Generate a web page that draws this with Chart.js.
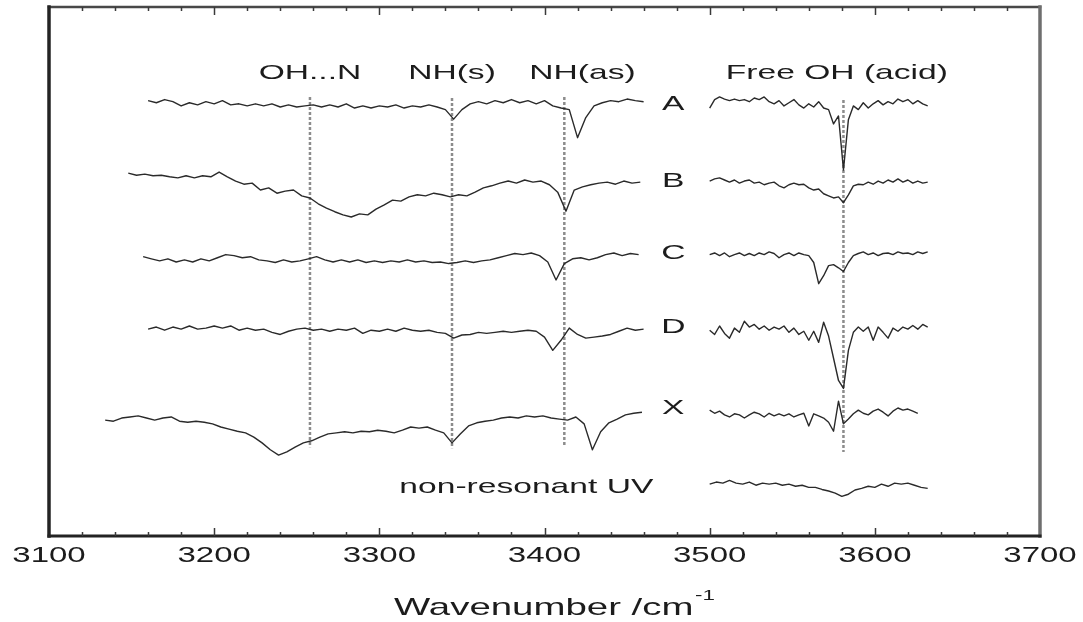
<!DOCTYPE html>
<html>
<head>
<meta charset="utf-8">
<script src="https://cdn.jsdelivr.net/npm/chart.js@4.4.1/dist/chart.umd.min.js"></script>
<style>
  html, body { margin: 0; padding: 0; background: #fff; }
  canvas { display: block; }
</style>
</head>
<body>
<canvas id="spectra" width="1083" height="622"></canvas>
<script>
// IR-UV ion-dip spectra, intensity in arbitrary units (each trace shifted by its offset)
const traceNames   = ['A', 'B', 'C', 'D', 'X', 'non-resonant UV'];
const traceOffsets = [81.7, 67.3, 52.6, 38.9, 22.3, 9.6];
const labelLift    = [0, -0.2, 0.9, 0.6, 1.9, -0.4];

// low-frequency scan (NH / bonded OH region): start wavenumber, step
const lowStart = [3160, 3148, 3157, 3160, 3134];
const lowStep  = 5;
// high-frequency scan (free OH region)
const highStart = [3500, 3500, 3500, 3500, 3500, 3500];
const highStep  = [3, 3, 3, 3, 3, 4];

const aLow = [0.6,0.2,0.8,0.4,-0.4,0.2,-0.2,0.4,0,0.6, -0.2,0,-0.4,0,-0.4,0,-0.6,-0.2,-0.6,-0.4,
  -0.2,-0.6,-0.2,-0.6,0,-0.8,-0.4,-0.8,-0.4,-0.6, -0.2,-0.8,-0.4,-0.6,-0.2,-0.6,-1.1,-2.9,-1.1,0,
  0.4,0,0.6,0.2,0.8,0.2,0.6,0,0.6,-0.4, -0.8,-1.1,-6.4,-2.6,-0.4,0.2,0.6,0.4,0.9,0.6,0.4];
const aHigh = [-0.8,0.8,1.3,0.9,0.6,0.9,0.6,0.8,0.4,1.1, 0.8,1.3,0.4,0,0.6,-0.4,0.2,0.8,-0.2,-0.8,
  0,-0.6,0.4,-0.8,-1.1,-3.8,-2.3,-12.5,-3.0,-0.4, -1.1,0.2,-0.8,0,0.6,-0.2,0.4,0,0.9,0.4,
  0.8,0,0.6,0,-0.4];

const bLow = [1.3,0.9,1.1,0.8,0.9,0.6,0.4,0.8,0.4,0.8, 0.6,1.5,0.6,-0.2,-0.8,-0.6,-1.9,-1.5,-2.5,-2.1,
  -1.9,-3.0,-3.4,-4.5,-5.3,-6.0,-6.6,-7.0,-6.4,-6.6, -5.5,-4.7,-3.8,-4.0,-3.2,-2.8,-3.0,-2.5,-2.8,-3.2,
  -2.8,-3.0,-2.3,-1.5,-1.1,-0.6,-0.2,-0.6,0,-0.4, -0.2,-0.9,-2.3,-5.9,-1.9,-1.3,-0.9,-0.6,-0.4,-0.8,
  -0.2,-0.6,-0.4];
const bHigh = [-0.2,0.2,0.4,0,-0.4,0,-0.6,-0.2,0,-0.6, -0.4,-0.9,-0.6,-0.4,-1.1,-1.5,-0.9,-0.6,-0.9,-0.8,
  -1.5,-1.9,-1.7,-2.6,-3.0,-3.4,-3.2,-4.3,-2.8,-1.1, -0.8,-0.9,-0.4,-0.8,-0.2,-0.6,0,-0.4,0.2,-0.4,
  0,-0.6,-0.2,-0.6,-0.4];

const cLow = [0.2,-0.2,-0.6,-0.2,-0.8,-0.4,-0.8,-0.2,-0.6,0, 0.6,0.4,0,0.2,-0.4,-0.6,-0.9,-0.4,-0.8,-0.6,
  -0.2,0.2,-0.4,-0.8,-0.4,-0.8,-0.4,-0.9,-0.6,-0.9, -0.6,-0.8,-0.4,-0.8,-0.6,-0.9,-0.8,-1.1,-0.9,-0.6,
  -0.9,-0.6,-0.4,0,0.4,0.8,0.6,0.9,0.4,-0.8, -4.2,-1.1,-0.2,0,-0.4,0,0.6,0.9,0.4,0.8, 0.6];
const cHigh = [0.6,0.9,0.4,0.9,0.2,0.6,0.9,0.4,0.8,0.4, 0.9,0.6,1.1,0.8,0,0.6,0.9,0.4,0.9,0.6,
  0.4,-0.9,-4.9,-3.4,-1.5,-1.3,-1.9,-2.6,-0.9,0.4, 0.8,1.1,0.6,0.9,0.4,0.8,0.9,0.6,1.1,0.8,
  0.9,0.6,1.1,0.8,1.1];

const dLow = [0.2,0.6,0,0.6,0.2,0.8,0.2,0.4,0.8,0.4, 0.8,0,0.4,0,0.2,-0.4,-0.8,-0.2,0.2,0.4,
  0,0.2,-0.2,0.2,0,0.4,-0.6,0,-0.2,0.2, -0.2,0.4,0,-0.2,0,-0.4,-0.6,-1.5,-0.9,-0.8,
  -0.4,-0.6,-0.4,-0.2,-0.4,-0.2,0,-0.2,-1.3,-3.8, -1.9,0.4,-0.8,-1.5,-1.3,-1.1,-0.8,-0.2,0.4,0, 0.2];
const dHigh = [0,-0.8,0.8,-0.6,-1.5,0.4,-0.4,1.7,0.6,1.1, 0.2,0.8,0,0.6,0.2,0.8,-0.4,0.4,-0.8,-0.2,
  -1.9,-0.2,-2.3,1.5,-1.1,-5.3,-9.5,-11.0,-3.8,-0.4, 0.6,-0.2,0.6,-1.9,0.6,-0.4,-1.5,0.4,-0.2,0.6,
  0.2,0.9,0.2,1.1,0.6];

const xLow = [-0.4,-0.6,0,0.2,0.4,0,-0.4,0,0.2,-0.6, -0.8,-0.6,-0.8,-1.1,-1.7,-2.1,-2.5,-2.8,-3.6,-4.7,
  -6.0,-7.0,-6.4,-5.5,-4.7,-4.3,-3.6,-3.0,-2.8,-2.6, -2.8,-2.5,-2.6,-2.3,-2.5,-2.8,-2.3,-1.7,-1.9,-1.7,
  -2.3,-2.8,-4.7,-3.0,-1.5,-0.9,-0.6,-0.4,0,0.2, 0,0.4,0.2,0.4,0,-0.2,-0.4,0.2,-1.1,-6.0,
  -2.6,-0.9,-0.2,0.6,0.9,1.1];
const xHigh = [1.5,0.9,1.3,0.6,0.2,0.8,0.6,0,0.6,1.1, 0.8,0.2,0.9,0.4,0.8,0.4,0.8,0.2,0.6,0.9,
  -1.5,0.8,0.4,0,-0.8,-2.5,3.2,-1.1,-0.2,0.8, 1.5,0.9,0.6,1.3,1.7,1.1,0.4,1.3,1.9,1.5,
  1.7,1.3,0.9];

const uvHigh = [0.2,0.6,0.4,0.9,0.4,0.2,0.6,0,0.4,0.2, 0.4,0,0.2,-0.2,0,-0.4,-0.4,-0.8,-1.1,-1.5,
  -2.1,-1.7,-0.9,-0.6,-0.2,-0.4,0.2,-0.2,0.4,0.2, 0.4,0,-0.4,-0.6];

const lowScans  = [aLow, bLow, cLow, dLow, xLow];
const highScans = [aHigh, bHigh, cHigh, dHigh, xHigh, uvHigh];

// assigned band positions (dotted guides) and their captions
const bandNames     = ['OH...N', 'NH(s)', 'NH(as)', 'Free OH (acid)'];
const bandPositions = [3258, 3344, 3412, 3581];
const bandTop       = [83.0, 82.8, 83.0, 82.4];
const bandBottom    = [16.8, 16.6, 17.2, 15.9];
const bandLabelX    = [3258, 3344, 3423, 3577];
const bandLabelY    = 87.5;

const traceLabelX = 3478;
const uvLabelX    = 3389;

const xMajorTicks = [3100, 3200, 3300, 3400, 3500, 3600, 3700];
const xTickLabels = ['3100', '3200', '3300', '3400', '3500', '3600', '3700'];
const xMinorStep  = 20;
const axisTitle   = 'Wavenumber /cm';
const axisTitleSup = '-1';

const traceColor = '#2a2a2a';
const FONT = '"Liberation Sans", Arial, Helvetica, sans-serif';

function scanPoints(values, start, step, offset) {
  return values.map((v, i) => ({ x: start + i * step, y: offset + v }));
}

const datasets = [];
lowScans.forEach((vals, k) => {
  datasets.push({
    data: scanPoints(vals, lowStart[k], lowStep, traceOffsets[k]),
    borderColor: traceColor, borderWidth: 1.4, order: 0
  });
});
highScans.forEach((vals, k) => {
  datasets.push({
    data: scanPoints(vals, highStart[k], highStep[k], traceOffsets[k]),
    borderColor: traceColor, borderWidth: 1.4, order: 0
  });
});
bandPositions.forEach((pos, k) => {
  datasets.push({
    data: [{ x: pos, y: bandTop[k] }, { x: pos, y: bandBottom[k] }],
    borderColor: '#8c8c8c', borderWidth: 2.5, borderDash: [3, 2], order: 1
  });
});

function wideText(ctx, text, x, y, size, sx, align) {
  ctx.save();
  ctx.translate(x, y);
  ctx.scale(sx, 1);
  ctx.font = size + 'px ' + FONT;
  ctx.textAlign = align || 'center';
  ctx.textBaseline = 'middle';
  ctx.fillText(text, 0, 0);
  ctx.restore();
}

const framePlugin = {
  id: 'frameAndText',
  afterDraw(chart) {
    const { ctx, chartArea: { left, right, top, bottom }, scales: { x, y } } = chart;
    ctx.save();
    ctx.lineCap = 'square';
    // box
    ctx.strokeStyle = '#484848'; ctx.lineWidth = 2.5;
    ctx.beginPath(); ctx.moveTo(left, top); ctx.lineTo(right, top); ctx.stroke();
    ctx.strokeStyle = '#6e6e6e'; ctx.lineWidth = 3.5;
    ctx.beginPath(); ctx.moveTo(right, top); ctx.lineTo(right, bottom); ctx.stroke();
    ctx.strokeStyle = '#232323'; ctx.lineWidth = 3;
    ctx.beginPath(); ctx.moveTo(left, bottom); ctx.lineTo(right, bottom); ctx.stroke();
    ctx.lineWidth = 3.5;
    ctx.beginPath(); ctx.moveTo(left, top); ctx.lineTo(left, bottom); ctx.stroke();

    // inward ticks on top and bottom axes
    ctx.strokeStyle = '#3a3a3a'; ctx.lineWidth = 1.5; ctx.lineCap = 'butt';
    for (let v = x.min + xMinorStep; v < x.max; v += xMinorStep) {
      const px = Math.round(x.getPixelForValue(v)) + 0.5;
      const len = (v % 100 === 0) ? 8 : 4;
      ctx.beginPath(); ctx.moveTo(px, top); ctx.lineTo(px, top + len); ctx.stroke();
      ctx.beginPath(); ctx.moveTo(px, bottom); ctx.lineTo(px, bottom - len); ctx.stroke();
    }

    ctx.fillStyle = '#1c1c1c';
    // tick labels
    xMajorTicks.forEach((v, i) => {
      wideText(ctx, xTickLabels[i], x.getPixelForValue(v), bottom + 20, 22, 1.5, 'center');
    });
    // axis title with superscript
    ctx.save();
    ctx.font = '24px ' + FONT;
    const wMain = ctx.measureText(axisTitle).width;
    ctx.font = '14px ' + FONT;
    const wSup = ctx.measureText(axisTitleSup).width;
    ctx.restore();
    const sx = 1.6;
    const total = (wMain + wSup + 1) * sx;
    const cx = (left + right) / 2 + 10;
    const startX = cx - total / 2;
    wideText(ctx, axisTitle, startX, bottom + 72, 24, sx, 'left');
    wideText(ctx, axisTitleSup, startX + (wMain + 1) * sx, bottom + 60, 14, sx, 'left');

    // band captions
    bandNames.forEach((name, k) => {
      wideText(ctx, name, x.getPixelForValue(bandLabelX[k]), y.getPixelForValue(bandLabelY), 21, 1.6, 'center');
    });
    // trace labels
    traceNames.forEach((name, k) => {
      const py = y.getPixelForValue(traceOffsets[k] + labelLift[k]);
      const px = x.getPixelForValue(k === 5 ? uvLabelX : traceLabelX);
      wideText(ctx, name, px, py, 21, 1.6, 'center');
    });
    ctx.restore();
  }
};

new Chart(document.getElementById('spectra'), {
  type: 'line',
  data: { datasets },
  options: {
    responsive: false,
    animation: false,
    events: [],
    parsing: true,
    layout: { padding: { left: 49, right: 43, top: 7, bottom: 86 } },
    elements: { point: { radius: 0 }, line: { tension: 0, borderJoinStyle: 'round' } },
    plugins: { legend: { display: false }, tooltip: { enabled: false } },
    scales: {
      x: { type: 'linear', min: 3100, max: 3700, display: false },
      y: { type: 'linear', min: 0, max: 100, display: false }
    }
  },
  plugins: [framePlugin]
});
</script>
</body>
</html>
